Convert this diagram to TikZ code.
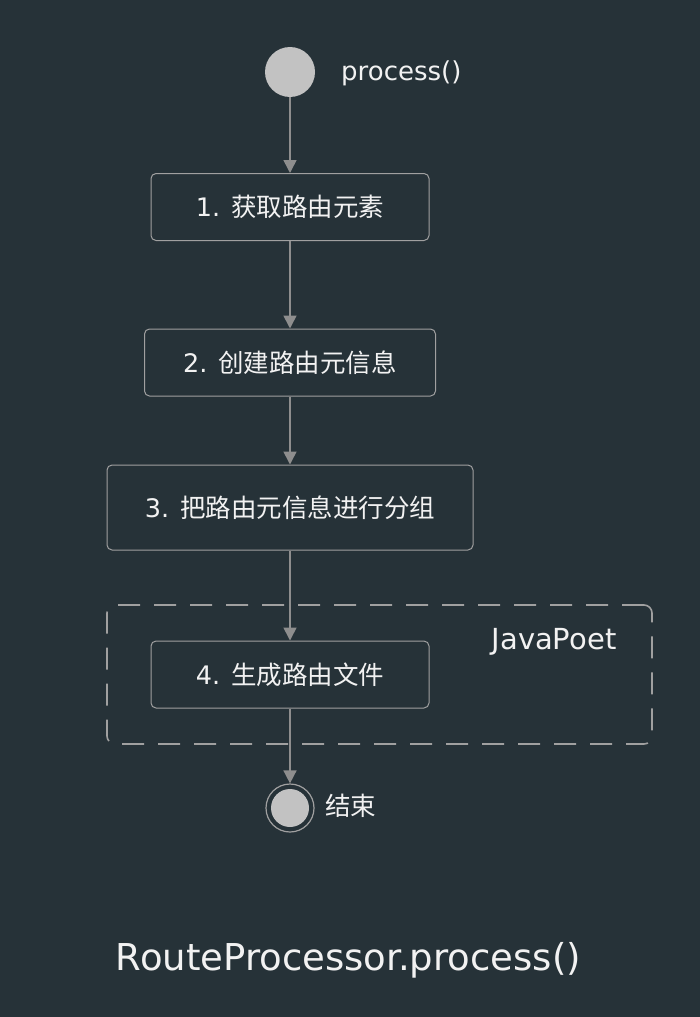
\documentclass[tikz,border=0pt]{standalone}
\usepackage{fontspec}
\setmainfont{DejaVu Sans}
\newfontfamily\cjk{Noto Sans CJK SC}
\usetikzlibrary{arrows.meta}
\definecolor{bgColor}{HTML}{263238}
\definecolor{lineColor}{HTML}{8E8E8E}
\definecolor{boxColor}{HTML}{A0A0A0}
\definecolor{dotColor}{HTML}{C2C2C2}
\definecolor{textColor}{HTML}{F2F2F2}
\begin{document}
\begin{tikzpicture}[x=1pt, y=-1pt, >={Triangle[width=13pt,length=13pt]},
    stepStyle/.style={rectangle, draw=boxColor, line width=1pt, rounded corners=5pt, text=textColor, font=\fontsize{25.5}{30}\selectfont, minimum height=67pt, inner sep=0pt},
    groupStyle/.style={rectangle, draw=boxColor, line width=1.6pt, dash pattern=on 22pt off 14pt, rounded corners=8pt, minimum width=545pt, minimum height=139pt, inner sep=0pt},
    startStyle/.style={circle, fill=dotColor, minimum size=50pt, inner sep=0pt},
    stopStyle/.style={circle, draw=boxColor, line width=1.2pt, minimum size=48pt, inner sep=0pt},
    dotStyle/.style={circle, fill=dotColor, minimum size=38pt, inner sep=0pt},
    labelStyle/.style={text=textColor, inner sep=0pt},
    arrowStyle/.style={->, draw=lineColor, line width=1.6pt}]
    \fill[bgColor] (0,0) rectangle (700,1017);
    \useasboundingbox (0,0) rectangle (700,1017);

    % group box
    \node[groupStyle] (poet) at (379.5, 674.5) {};
    \node[labelStyle, font=\fontsize{29}{34}\selectfont] (poet_L) at (554, 642) {JavaPoet};

    % start
    \node[startStyle] (start) at (290, 72) {};
    \node[labelStyle, anchor=west, font=\fontsize{26}{31}\selectfont] (start_L) at (341, 73) {process()};

    % steps
    \node[stepStyle, minimum width=278pt] (step_1) at (290, 207)   {1. {\cjk 获取路由元素}};
    \node[stepStyle, minimum width=291pt] (step_2) at (290, 362.5) {2. {\cjk 创建路由元信息}};
    \node[stepStyle, minimum width=366pt, minimum height=85pt] (step_3) at (290, 507.5) {3. {\cjk 把路由元信息进行分组}};
    \node[stepStyle, minimum width=278pt] (step_4) at (290, 674.5) {4. {\cjk 生成路由文件}};

    % stop
    \node[stopStyle] (stop) at (290, 808) {};
    \node[dotStyle] (stop_D) at (stop) {};
    \node[labelStyle, anchor=west, font=\cjk\fontsize{25.5}{30}\selectfont] (stop_L) at (325, 806) {结束};

    \draw[arrowStyle] (start) -- (step_1);
    \draw[arrowStyle] (step_1) -- (step_2);
    \draw[arrowStyle] (step_2) -- (step_3);
    \draw[arrowStyle] (step_3) -- (step_4);
    \draw[arrowStyle] (step_4) -- (stop);

    % title
    \node[labelStyle, font=\fontsize{37}{44}\selectfont] (title) at (348.5, 960) {RouteProcessor.process()};
\end{tikzpicture}
\end{document}
